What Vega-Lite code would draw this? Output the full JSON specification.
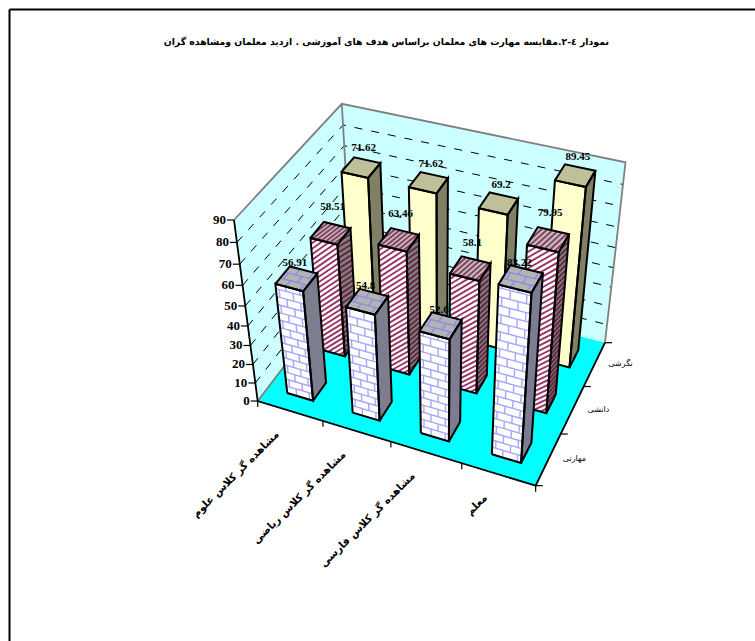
{"$schema":"https://vega.github.io/schema/vega-lite/v6.json","width":746,"height":632,"padding":{"left":9,"top":9,"right":0,"bottom":0},"autosize":"none","background":"white","config":{"view":{"stroke":null}},
"title":{"text":"نمودار ٤-٢.مقایسه مهارت های معلمان براساس هدف های آموزشی . ازدید معلمان ومشاهده گران","font":"DejaVu Sans","fontWeight":"bold","fontSize":9.3,"color":"#000","anchor":"middle","frame":"group","offset":-42,"dx":4.3,"baseline":"middle"},
"datasets":{"bars":[
{"cat":"مشاهده گر کلاس علوم","series":"نگرشی","value":71.62},{"cat":"مشاهده گر کلاس ریاضی","series":"نگرشی","value":71.62},{"cat":"مشاهده گر کلاس فارسی","series":"نگرشی","value":69.2},{"cat":"معلم","series":"نگرشی","value":89.45},
{"cat":"مشاهده گر کلاس علوم","series":"دانشی","value":58.51},{"cat":"مشاهده گر کلاس ریاضی","series":"دانشی","value":63.46},{"cat":"مشاهده گر کلاس فارسی","series":"دانشی","value":58.1},{"cat":"معلم","series":"دانشی","value":79.95},
{"cat":"مشاهده گر کلاس علوم","series":"مهارتی","value":56.91},{"cat":"مشاهده گر کلاس ریاضی","series":"مهارتی","value":54.8},{"cat":"مشاهده گر کلاس فارسی","series":"مهارتی","value":52.6},{"cat":"معلم","series":"مهارتی","value":83.22}],
"ticks":[{"axis":"z","t":0},{"axis":"z","t":10},{"axis":"z","t":20},{"axis":"z","t":30},{"axis":"z","t":40},{"axis":"z","t":50},{"axis":"z","t":60},{"axis":"z","t":70},{"axis":"z","t":80},{"axis":"z","t":90},{"axis":"u","t":0},{"axis":"u","t":1},{"axis":"u","t":2},{"axis":"u","t":3},{"axis":"u","t":4},{"axis":"v","t":0},{"axis":"v","t":1},{"axis":"v","t":2},{"axis":"v","t":3}]},
"encoding":{"x":{"field":"X","type":"quantitative","scale":{"domain":[9,755],"nice":false,"zero":false},"axis":{"orient":"top","title":null,"labels":false,"ticks":false,"grid":false,"domainColor":"#000","domainWidth":2}},
"y":{"field":"Y","type":"quantitative","scale":{"domain":[9,641],"reverse":true,"nice":false,"zero":false},"axis":{"orient":"left","title":null,"labels":false,"ticks":false,"grid":false,"domainColor":"#000","domainWidth":2}}},
"layer":[
{"data":{"values":[{"part":"back"},{"part":"left"},{"part":"floor"}]},
"transform":[{"calculate":"datum.part=='back'?[[0,1,0],[1,1,0],[1,1,1],[0,1,1]]:datum.part=='left'?[[0,0,0],[0,1,0],[0,1,1],[0,0,1]]:[[0,0,0],[1,0,0],[1,1,0],[0,1,0]]","as":"pts"},{"calculate":"[0,1,2,3]","as":"k"},{"flatten":["k"]},{"calculate":"datum.pts[datum.k][0]","as":"u"},{"calculate":"datum.pts[datum.k][1]","as":"v"},{"calculate":"datum.pts[datum.k][2]","as":"w"},
{"calculate":"(235.1*datum.u+136.4*datum.v-50.6*datum.w+257.7)/(1-.08*datum.u+.12*datum.v-.115*datum.w)","as":"X"},{"calculate":"(45.8*datum.u-90.4*datum.v-206.3*datum.w+401)/(1-.08*datum.u+.12*datum.v-.115*datum.w)","as":"Y"},{"calculate":"datum.part=='floor'?'#00FFFF':'#CCFFFF'","as":"fc"}],
"mark":{"type":"line","strokeWidth":0,"clip":false},"encoding":{"detail":{"field":"part"},"order":{"field":"k"},"fill":{"field":"fc","type":"nominal","scale":null}}},
{"data":{"values":[{"lvl":10},{"lvl":20},{"lvl":30},{"lvl":40},{"lvl":50},{"lvl":60},{"lvl":70},{"lvl":80}]},
"transform":[{"calculate":"[0,1,2]","as":"k"},{"flatten":["k"]},{"calculate":"datum.k==2?1:0","as":"u"},{"calculate":"datum.k==0?0:1","as":"v"},{"calculate":"datum.lvl/90","as":"w"},
{"calculate":"(235.1*datum.u+136.4*datum.v-50.6*datum.w+257.7)/(1-.08*datum.u+.12*datum.v-.115*datum.w)","as":"X"},{"calculate":"(45.8*datum.u-90.4*datum.v-206.3*datum.w+401)/(1-.08*datum.u+.12*datum.v-.115*datum.w)","as":"Y"}],
"mark":{"type":"line","stroke":"#000","strokeWidth":1,"strokeDash":[8,9]},"encoding":{"detail":{"field":"lvl"},"order":{"field":"k"}}},
{"data":{"values":[{"part":"gray1"},{"part":"gray2"},{"part":"black"}]},
"transform":[{"calculate":"datum.part=='gray1'?[[0,0,1],[0,1,1],[1,1,1],[1,1,0]]:datum.part=='gray2'?[[0,1,1],[0,1,0],[0,0,0]]:[[0,0,1],[0,0,0],[1,0,0],[1,1,0]]","as":"pts"},{"calculate":"sequence(0,length(datum.pts))","as":"k"},{"flatten":["k"]},{"calculate":"datum.pts[datum.k][0]","as":"u"},{"calculate":"datum.pts[datum.k][1]","as":"v"},{"calculate":"datum.pts[datum.k][2]","as":"w"},
{"calculate":"(235.1*datum.u+136.4*datum.v-50.6*datum.w+257.7)/(1-.08*datum.u+.12*datum.v-.115*datum.w)","as":"X"},{"calculate":"(45.8*datum.u-90.4*datum.v-206.3*datum.w+401)/(1-.08*datum.u+.12*datum.v-.115*datum.w)","as":"Y"},{"calculate":"datum.part=='black'?'#000':'#808080'","as":"sc"}],
"mark":{"type":"line","strokeWidth":1.8},"encoding":{"detail":{"field":"part"},"order":{"field":"k"},"stroke":{"field":"sc","type":"nominal","scale":null}}},
{"data":{"name":"ticks"},
"transform":[{"calculate":"[0,1]","as":"k"},{"flatten":["k"]},{"calculate":"datum.axis=='u'?datum.t/4:datum.axis=='v'?1:0","as":"u"},{"calculate":"datum.axis=='v'?datum.t/3:0","as":"v"},{"calculate":"datum.axis=='z'?datum.t/90:0","as":"w"},
{"calculate":"(235.1*datum.u+136.4*datum.v-50.6*datum.w+257.7)/(1-.08*datum.u+.12*datum.v-.115*datum.w)+(datum.k==0?0:datum.axis=='z'?-7:datum.axis=='v'?7:0)","as":"X"},{"calculate":"(45.8*datum.u-90.4*datum.v-206.3*datum.w+401)/(1-.08*datum.u+.12*datum.v-.115*datum.w)+(datum.k==1&&datum.axis=='u'?6:0)","as":"Y"},{"calculate":"datum.axis+datum.t","as":"id"}],
"mark":{"type":"line","stroke":"#000","strokeWidth":1.2},"encoding":{"detail":{"field":"id"},"order":{"field":"k"}}},
{"data":{"name":"bars"},
"transform":[
{"calculate":"indexof(['مشاهده گر کلاس علوم','مشاهده گر کلاس ریاضی','مشاهده گر کلاس فارسی','معلم'],datum.cat)","as":"i"},
{"calculate":"indexof(['مهارتی','دانشی','نگرشی'],datum.series)","as":"j"},
{"calculate":"[0,1,2]","as":"ph"},{"flatten":["ph"]},
{"filter":"!(datum.ph==1&&datum.j==2)"},
{"calculate":"[0,1,2]","as":"fi"},{"flatten":["fi"]},
{"calculate":"datum.ph==1?(datum.j==0?sequence(0,3*(datum.fi==2?3:ceil(datum.value/3.9))):(datum.fi==0?sequence(0,ceil((datum.value+12)/2.6)):datum.fi==1?sequence(0,ceil((datum.value+4)/2.6)):sequence(0,8))):[0]","as":"q"},{"flatten":["q"]},
{"calculate":"floor(datum.q/3)","as":"r"},{"calculate":"datum.q%3","as":"m"},
{"calculate":"datum.fi==2?1/3:3.9","as":"bu"},{"calculate":"datum.fi==2?1:datum.value","as":"bm"},
{"calculate":"datum.fi==0?datum.q*2.6-12:datum.fi==1?datum.q*2.6:-.227+datum.q*.156","as":"c"},
{"calculate":"datum.j==0?(datum.m==0?0:(datum.r%2?.12:.37)+(datum.m==2?.5:0)):datum.fi==0?max(0,-datum.c/12):datum.fi==1?max(0,(datum.c-datum.value)/4):max(0,datum.c)","as":"A1"},
{"calculate":"datum.j==0?(datum.m==0?1:datum.A1):datum.fi==0?min(1,(datum.value-datum.c)/12):datum.fi==1?min(1,datum.c/4):min(1,datum.c+.227)","as":"A2"},
{"calculate":"datum.j==0?datum.r*datum.bu:datum.fi==0?max(0,datum.c):datum.fi==1?min(datum.c,datum.value):max(0,-datum.c/.227)","as":"B1"},
{"calculate":"datum.j==0?(datum.m==0?datum.B1:min((datum.r+1)*datum.bu,datum.bm)):datum.fi==0?min(datum.c+12,datum.value):datum.fi==1?max(0,datum.c-4):min(1,(1-datum.c)/.227)","as":"B2"},
{"calculate":"datum.ph==1?[0,1]:[0,1,2,3,4]","as":"k"},{"flatten":["k"]},
{"calculate":"datum.ph==1?(datum.k==0?datum.A1:datum.A2):(datum.k==1||datum.k==2?1:0)","as":"a"},
{"calculate":"datum.ph==1?(datum.k==0?datum.B1:datum.B2):(datum.k==2||datum.k==3?1:0)*(datum.fi==2?1:datum.value)","as":"b"},
{"calculate":"datum.i*.25+.075+(datum.fi==1?1:datum.a)*.1","as":"u"},
{"calculate":"datum.j/3+.1+(datum.fi==0?0:datum.fi==1?datum.a:datum.b)*.133","as":"v"},
{"calculate":"(datum.fi==2?datum.value:datum.b)/90","as":"w"},
{"calculate":"(235.1*datum.u+136.4*datum.v-50.6*datum.w+257.7)/(1-.08*datum.u+.12*datum.v-.115*datum.w)","as":"X"},
{"calculate":"(45.8*datum.u-90.4*datum.v-206.3*datum.w+401)/(1-.08*datum.u+.12*datum.v-.115*datum.w)","as":"Y"},
{"calculate":"datum.ph==0?(datum.j==0?['#FFFFFF','#808080','#B4B4B4'][datum.fi]:datum.j==1?['#FFFFFF','#808080','#C0C0C0'][datum.fi]:['#FFFFCC','#808066','#BFBF99'][datum.fi]):'transparent'","as":"fc"},
{"calculate":"datum.ph==2?'#000000':datum.ph==0?'transparent':datum.j==0?['#A6A6FF','#7878A8','#8C8CE6'][datum.fi]:['#993366','#66233F','#8A3C60'][datum.fi]","as":"sc"},
{"calculate":"datum.ph==2?2:datum.ph==0?0:datum.j==0?(datum.fi==1?1.1:1.4):1.9","as":"sw"},
{"calculate":"datum.i+'_'+datum.j+'_'+datum.ph+'_'+datum.fi+'_'+datum.q","as":"ek"}],
"mark":{"type":"line","strokeJoin":"miter","strokeCap":"butt"},
"encoding":{"detail":{"field":"ek"},"order":{"field":"k"},"fill":{"field":"fc","type":"nominal","scale":null},"stroke":{"field":"sc","type":"nominal","scale":null},"strokeWidth":{"field":"sw","type":"quantitative","scale":null}}},
{"data":{"name":"bars"},
"transform":[{"calculate":"indexof(['مشاهده گر کلاس علوم','مشاهده گر کلاس ریاضی','مشاهده گر کلاس فارسی','معلم'],datum.cat)","as":"i"},{"calculate":"indexof(['مهارتی','دانشی','نگرشی'],datum.series)","as":"j"},{"calculate":"datum.i*.25+.125","as":"u"},{"calculate":"datum.j/3+.1665","as":"v"},{"calculate":"datum.value/90","as":"w"},
{"calculate":"(235.1*datum.u+136.4*datum.v-50.6*datum.w+257.7)/(1-.08*datum.u+.12*datum.v-.115*datum.w)+[-1.5,2,2.5][datum.j]","as":"X"},{"calculate":"(45.8*datum.u-90.4*datum.v-206.3*datum.w+401)/(1-.08*datum.u+.12*datum.v-.115*datum.w)+[-16,-26,-19][datum.j]","as":"Y"}],
"mark":{"type":"text","font":"Liberation Serif","fontWeight":"bold","fontSize":11,"color":"#000","align":"center","baseline":"middle"},"encoding":{"text":{"field":"value","type":"nominal"}}},
{"data":{"name":"ticks"},
"transform":[{"filter":"datum.axis=='z'"},{"calculate":"datum.t/90","as":"w"},
{"calculate":"(-50.6*datum.w+257.7)/(1-.115*datum.w)-8","as":"X"},{"calculate":"(-206.3*datum.w+401)/(1-.115*datum.w)","as":"Y"}],
"mark":{"type":"text","font":"Liberation Serif","fontWeight":"bold","fontSize":13,"color":"#000","align":"right","baseline":"middle"},"encoding":{"text":{"field":"t","type":"nominal"}}},
{"data":{"values":[{"cat":"مشاهده گر کلاس علوم"},{"cat":"مشاهده گر کلاس ریاضی"},{"cat":"مشاهده گر کلاس فارسی"},{"cat":"معلم"}]},
"transform":[{"calculate":"(indexof(['مشاهده گر کلاس علوم','مشاهده گر کلاس ریاضی','مشاهده گر کلاس فارسی','معلم'],datum.cat)+.5)/4","as":"u"},
{"calculate":"(235.1*datum.u+257.7)/(1-.08*datum.u)-12.5","as":"X"},{"calculate":"(45.8*datum.u+401)/(1-.08*datum.u)+22","as":"Y"}],
"mark":{"type":"text","font":"DejaVu Sans","fontWeight":"bold","fontSize":10.4,"color":"#000","align":"right","baseline":"middle","angle":315},"encoding":{"text":{"field":"cat","type":"nominal"}}},
{"data":{"values":[{"series":"مهارتی"},{"series":"دانشی"},{"series":"نگرشی"}]},
"transform":[{"calculate":"(indexof(['مهارتی','دانشی','نگرشی'],datum.series)+.5)/3","as":"v"},
{"calculate":"(235.1+136.4*datum.v+257.7)/(.92+.12*datum.v)+26","as":"X"},{"calculate":"(45.8-90.4*datum.v+401)/(.92+.12*datum.v)","as":"Y"}],
"mark":{"type":"text","font":"DejaVu Sans","fontSize":8,"color":"#000","align":"center","baseline":"middle"},"encoding":{"text":{"field":"series","type":"nominal"}}}
]}
